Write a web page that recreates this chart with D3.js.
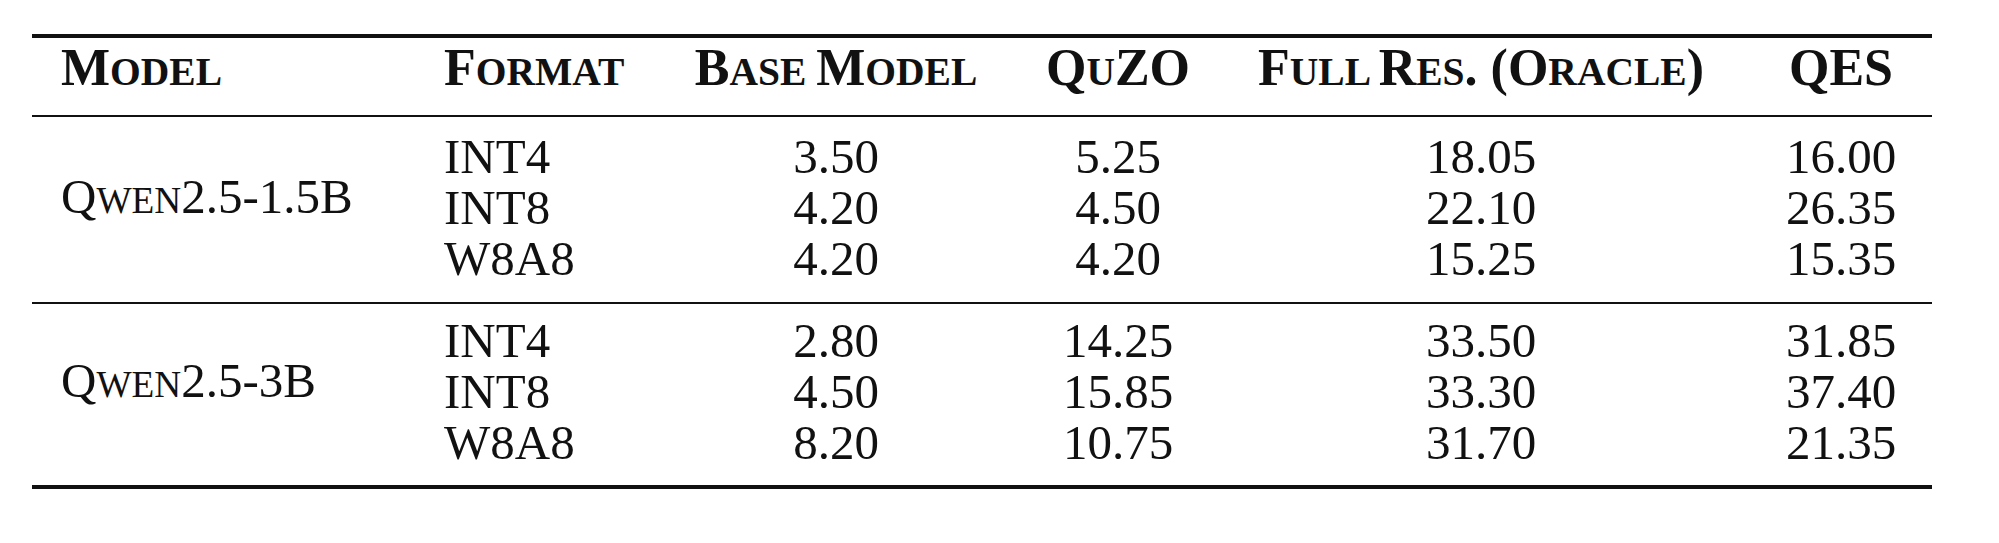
<!DOCTYPE html>
<html>
<head>
<meta charset="utf-8">
<script src="https://cdn.jsdelivr.net/npm/d3@7"></script>
<style>
  body { margin: 0; background: #fff; }
  text { font-family: "Liberation Serif", "Times New Roman", serif; fill: #111; }
</style>
</head>
<body>
<svg id="canvas" width="1999" height="543"></svg>
<script>
const width = 1999
const height = 543

// headers written as [text, isSmall] pieces for small caps
const headers = [
    [["M", 0], ["ODEL", 1]],
    [["F", 0], ["ORMAT", 1]],
    [["B", 0], ["ASE ", 1], ["M", 0], ["ODEL", 1]],
    [["Q", 0], ["U", 1], ["ZO", 0]],
    [["F", 0], ["ULL ", 1], ["R", 0], ["ES", 1], [". (O", 0], ["RACLE", 1], [")", 0]],
    [["QES", 0]]
]
const models = [
    [["Q", 0], ["WEN", 1], ["2.5-1.5B", 0]],
    [["Q", 0], ["WEN", 1], ["2.5-3B", 0]]
]
const formats = ["INT4", "INT8", "W8A8"]
const baseModel = [[3.50, 4.20, 4.20], [2.80, 4.50, 8.20]]
const quzo = [[5.25, 4.50, 4.20], [14.25, 15.85, 10.75]]
const fullRes = [[18.05, 22.10, 15.25], [33.50, 33.30, 31.70]]
const qes = [[16.00, 26.35, 15.35], [31.85, 37.40, 21.35]]

const left = 32, right = 1932
const colX = [61, 444, 836, 1118, 1481, 1841]
const colAnchor = ["start", "start", "middle", "middle", "middle", "middle"]
const fontSize = 49

const canvas = d3.select("#canvas")

function smallCaps(sel, parts, size) {
    parts.forEach(p => {
        sel.append("tspan")
            .attr("font-size", p[1] ? size * 0.76 : size)
            .text(p[0])
    })
}

// rows: header + 2 groups of 3
const yRow = d3.scaleLinear().domain([0, 1]).range([156, 207])
const groupTop = [156, 340]

// rules
const rules = [[36, 4], [116, 2], [303, 2], [487, 4]]
canvas.selectAll("line.rule").data(rules).enter().append("line")
    .attr("x1", left).attr("x2", right)
    .attr("y1", d => d[0]).attr("y2", d => d[0])
    .attr("stroke", "#111").attr("stroke-width", d => d[1])

// header
headers.forEach((h, i) => {
    const t = canvas.append("text")
        .attr("x", colX[i]).attr("y", 79)
        .attr("dy", "0.35em")
        .attr("text-anchor", colAnchor[i])
        .attr("font-weight", "bold")
    smallCaps(t, h, 52)
})

const series = [baseModel, quzo, fullRes, qes]
models.forEach((m, g) => {
    const y = d => groupTop[g] + (yRow(d) - yRow(0))
    const t = canvas.append("text")
        .attr("x", colX[0]).attr("y", y(1))
        .attr("dy", "0.35em")
    smallCaps(t, m, fontSize)

    formats.forEach((f, r) => {
        canvas.append("text")
            .attr("x", colX[1]).attr("y", y(r))
            .attr("dy", "0.35em")
            .attr("font-size", fontSize)
            .text(f)
        series.forEach((s, c) => {
            canvas.append("text")
                .attr("x", colX[c + 2]).attr("y", y(r))
                .attr("dy", "0.35em")
                .attr("text-anchor", "middle")
                .attr("font-size", fontSize)
                .text(s[g][r].toFixed(2))
        })
    })
})
</script>
</body>
</html>
